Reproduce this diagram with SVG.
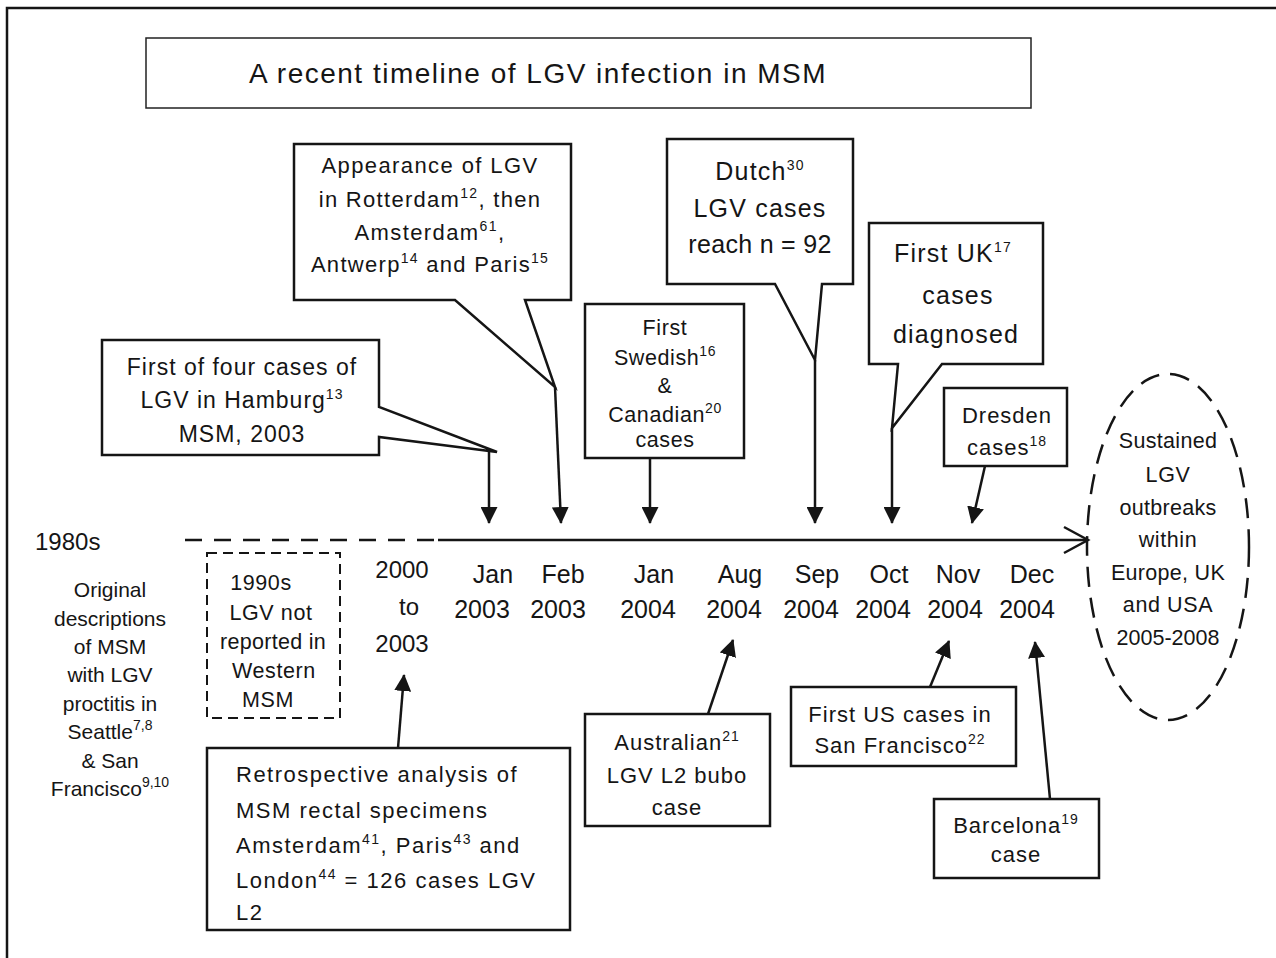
<svg xmlns="http://www.w3.org/2000/svg" width="1276" height="958" viewBox="0 0 1276 958">
<style>
text { font-family: "Liberation Sans", Arial, Helvetica, sans-serif; fill: #151515; }
.c { text-anchor: middle; }
.box { fill: #fff; stroke: #151515; stroke-width: 2.5; }
.dbox { fill: none; stroke: #151515; stroke-width: 2; stroke-dasharray: 10 6; }
.arr { fill: none; stroke: #151515; stroke-width: 2.5; marker-end: url(#ah); }
.sup { font-size: 14px; }
.f20 { font-size: 21px; }
.f21 { font-size: 21.5px; letter-spacing: 0.6px; }
.f22 { font-size: 22px; letter-spacing: 1px; }
.f23 { font-size: 23px; letter-spacing: 1px; }
.f24 { font-size: 24px; }
.f25 { font-size: 25px; letter-spacing: 1.2px; }
.date { font-size: 25px; text-anchor: middle; }
</style>
<defs>
<marker id="ah" markerUnits="userSpaceOnUse" viewBox="0 0 17 17" markerWidth="17" markerHeight="17" refX="16" refY="8.5" orient="auto">
<path d="M0,0 L17,8.5 L0,17 Z" fill="#151515"/>
</marker>
</defs>
<rect width="1276" height="958" fill="#fff"/>
<path d="M7,958 V8 H1276" fill="none" stroke="#151515" stroke-width="2.5"/>

<g id="title">
<rect x="146" y="38" width="885" height="70" fill="#fff" stroke="#222" stroke-width="1.5"/>
<text x="538" y="83" class="c" style="font-size:28px;letter-spacing:1.5px">A recent timeline of LGV infection in MSM</text>
</g>

<g id="connectors">
<line x1="185" y1="540" x2="438" y2="540" stroke="#151515" stroke-width="2.5" stroke-dasharray="17 12"/>
<line x1="438" y1="540" x2="1087" y2="540" stroke="#151515" stroke-width="2.5"/>
<path d="M1064,527 L1088,540 L1064,553" fill="none" stroke="#151515" stroke-width="2.5"/>
<line class="arr" x1="489" y1="451" x2="489" y2="523"/>
<line class="arr" x1="555" y1="387" x2="561" y2="523"/>
<line class="arr" x1="650" y1="458" x2="650" y2="523"/>
<line class="arr" x1="815" y1="360" x2="815" y2="523"/>
<line class="arr" x1="892" y1="428" x2="892" y2="523"/>
<line class="arr" x1="985" y1="466" x2="972" y2="523"/>
<line class="arr" x1="398" y1="748" x2="404" y2="675"/>
<line class="arr" x1="708" y1="714" x2="733" y2="640"/>
<line class="arr" x1="930" y1="687" x2="949" y2="641"/>
<line class="arr" x1="1050" y1="799" x2="1035" y2="642"/>
</g>

<g id="hamburg">
<path class="box" d="M102,340 H379 V407 L497,452 L379,437 V455 H102 Z"/>
<text class="c f23" x="242" y="375">First of four cases of</text>
<text class="c f23" x="242" y="408">LGV in Hamburg<tspan class="sup" dy="-9">13</tspan></text>
<text class="c f23" x="242" y="442">MSM, 2003</text>
</g>

<g id="rotterdam">
<path class="box" d="M294,144 H571 V300 H525 L555,387 L455,300 H294 Z"/>
<text class="c f22" x="430" y="173" style="letter-spacing:1.4px">Appearance of LGV</text>
<text class="c f22" x="430" y="207" style="letter-spacing:1.3px">in Rotterdam<tspan class="sup" dy="-9">12</tspan><tspan dy="9">, then</tspan></text>
<text class="c f22" x="430" y="240" style="letter-spacing:1.4px">Amsterdam<tspan class="sup" dy="-9">61</tspan><tspan dy="9">,</tspan></text>
<text class="c f22" x="430" y="272" style="letter-spacing:1.3px">Antwerp<tspan class="sup" dy="-9">14</tspan><tspan dy="9"> and Paris</tspan><tspan class="sup" dy="-9">15</tspan></text>
</g>

<g id="swedish">
<rect class="box" x="585" y="304" width="159" height="154"/>
<text class="c f21" x="665" y="335">First</text>
<text class="c f21" x="665" y="365">Swedish<tspan class="sup" dy="-9">16</tspan></text>
<text class="c f21" x="665" y="393">&amp;</text>
<text class="c f21" x="665" y="422">Canadian<tspan class="sup" dy="-9">20</tspan></text>
<text class="c f21" x="665" y="447">cases</text>
</g>

<g id="dutch">
<path class="box" d="M667,139 H853 V284 H822 L815,360 L775,284 H667 Z"/>
<text class="c f25" x="760" y="180">Dutch<tspan class="sup" dy="-10">30</tspan></text>
<text class="c f25" x="760" y="217">LGV cases</text>
<text class="c f25" x="760" y="253" style="letter-spacing:0.3px">reach n = 92</text>
</g>

<g id="uk">
<path class="box" d="M869,223 H1043 V364 H942 L892,428 L898,364 H869 Z"/>
<text class="c f25" x="953" y="262">First UK<tspan class="sup" dy="-10">17</tspan></text>
<text class="c f25" x="958" y="304">cases</text>
<text class="c f25" x="956" y="343">diagnosed</text>
</g>

<g id="dresden">
<rect class="box" x="944" y="388" width="123" height="78"/>
<text class="c f22" x="1007" y="423">Dresden</text>
<text class="c f22" x="1007" y="455">cases<tspan class="sup" dy="-9">18</tspan></text>
</g>

<g id="sustained">
<ellipse cx="1168" cy="547" rx="81" ry="173" fill="none" stroke="#151515" stroke-width="2.5" stroke-dasharray="20 11"/>
<text class="c f21" x="1168" y="448" style="letter-spacing:0.3px">Sustained</text>
<text class="c f21" x="1168" y="482">LGV</text>
<text class="c f21" x="1168" y="515" style="letter-spacing:0.3px">outbreaks</text>
<text class="c f21" x="1168" y="547">within</text>
<text class="c f21" x="1168" y="580" style="letter-spacing:0.3px">Europe, UK</text>
<text class="c f21" x="1168" y="612">and USA</text>
<text class="c f21" x="1168" y="645" style="letter-spacing:0">2005-2008</text>
</g>

<g id="eighties">
<text class="f24" x="35" y="550">1980s</text>
<text class="c f20" x="110" y="597">Original</text>
<text class="c f20" x="110" y="626">descriptions</text>
<text class="c f20" x="110" y="654">of MSM</text>
<text class="c f20" x="110" y="682">with LGV</text>
<text class="c f20" x="110" y="711">proctitis in</text>
<text class="c f20" x="110" y="739">Seattle<tspan class="sup" dy="-9">7,8</tspan></text>
<text class="c f20" x="110" y="768">&amp; San</text>
<text class="c f20" x="110" y="796">Francisco<tspan class="sup" dy="-9">9,10</tspan></text>
</g>

<g id="nineties">
<rect class="dbox" x="207" y="553" width="133" height="165"/>
<text class="c f21" x="261" y="590">1990s</text>
<text class="c f21" x="271" y="620">LGV not</text>
<text class="c f21" x="273" y="649" style="letter-spacing:0.3px">reported in</text>
<text class="c f21" x="274" y="678">Western</text>
<text class="c f21" x="268" y="707">MSM</text>
</g>

<g id="y2000">
<text class="c f24" x="402" y="578">2000</text>
<text class="c f24" x="409" y="615">to</text>
<text class="c f24" x="402" y="652">2003</text>
</g>

<g id="dates">
<text class="date" x="493" y="583">Jan</text><text class="date" x="482" y="618">2003</text>
<text class="date" x="563" y="583">Feb</text><text class="date" x="558" y="618">2003</text>
<text class="date" x="654" y="583">Jan</text><text class="date" x="648" y="618">2004</text>
<text class="date" x="740" y="583">Aug</text><text class="date" x="734" y="618">2004</text>
<text class="date" x="817" y="583">Sep</text><text class="date" x="811" y="618">2004</text>
<text class="date" x="889" y="583">Oct</text><text class="date" x="883" y="618">2004</text>
<text class="date" x="958" y="583">Nov</text><text class="date" x="955" y="618">2004</text>
<text class="date" x="1032" y="583">Dec</text><text class="date" x="1027" y="618">2004</text>
</g>

<g id="retrospective">
<rect class="box" x="207" y="748" width="363" height="182"/>
<text class="f22" x="236" y="782" style="letter-spacing:1.5px">Retrospective analysis of</text>
<text class="f22" x="236" y="818" style="letter-spacing:1.5px">MSM rectal specimens</text>
<text class="f22" x="236" y="853" style="letter-spacing:1.5px">Amsterdam<tspan class="sup" dy="-9">41</tspan><tspan dy="9">, Paris</tspan><tspan class="sup" dy="-9">43</tspan><tspan dy="9"> and</tspan></text>
<text class="f22" x="236" y="888" style="letter-spacing:1.5px">London<tspan class="sup" dy="-9">44</tspan><tspan dy="9"> = 126 cases LGV</tspan></text>
<text class="f22" x="236" y="920" style="letter-spacing:1.5px">L2</text>
</g>

<g id="australian">
<rect class="box" x="585" y="714" width="185" height="112"/>
<text class="c f22" x="677" y="750">Australian<tspan class="sup" dy="-9">21</tspan></text>
<text class="c f22" x="677" y="783">LGV L2 bubo</text>
<text class="c f22" x="677" y="815">case</text>
</g>

<g id="us">
<rect class="box" x="791" y="687" width="225" height="79"/>
<text class="c f22" x="900" y="722">First US cases in</text>
<text class="c f22" x="900" y="753">San Francisco<tspan class="sup" dy="-9">22</tspan></text>
</g>

<g id="barcelona">
<rect class="box" x="934" y="799" width="165" height="79"/>
<text class="c f22" x="1016" y="833">Barcelona<tspan class="sup" dy="-9">19</tspan></text>
<text class="c f22" x="1016" y="862">case</text>
</g>
</svg>
